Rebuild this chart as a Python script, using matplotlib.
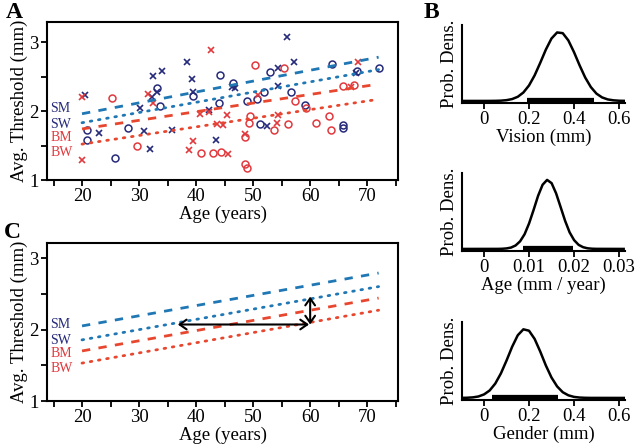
import numpy as np
import matplotlib
matplotlib.use("Agg")
import matplotlib.pyplot as plt
from matplotlib.ticker import MultipleLocator

plt.rcParams['font.family'] = ['Liberation Serif', 'DejaVu Serif']

# ---------------- data ----------------
# Panel A scatter (age, avg threshold)
sm_age = [20.6, 23.0, 30.2, 30.9, 31.9, 32.4, 32.2, 33.1, 34.1, 35.7, 38.4, 39.2, 39.4, 42.2, 43.5,
          46.3, 46.8, 52.5, 54.3, 55.9, 57.1, 54.3, 68.1]
sm_thr = [2.23, 1.68, 2.04, 1.71, 1.45, 2.51, 2.21, 2.28, 2.58, 1.72, 2.71, 2.46, 2.27, 2.01, 1.58,
          2.35, 2.34, 1.78, 2.62, 3.07, 2.71, 2.36, 2.55]
sw_age = [20.8, 20.8, 25.8, 28.0, 33.1, 33.7, 39.4, 44.2, 44.0, 46.5, 48.9, 50.6, 51.9, 51.2, 52.9,
          56.7, 59.1, 63.8, 68.2, 65.7, 65.7, 72.0]
sw_thr = [1.72, 1.58, 1.32, 1.75, 2.34, 2.07, 2.22, 2.52, 2.11, 2.41, 2.15, 2.18, 2.28, 1.81, 2.57,
          2.27, 2.09, 2.68, 2.58, 1.80, 1.76, 2.62]
bm_age = [20.0, 20.0, 31.5, 32.4, 38.8, 39.4, 40.7, 42.2, 42.6, 43.6, 44.8, 45.4, 45.6, 48.6, 50.8,
          54.2, 54.3, 68.3, 67.1]
bm_thr = [1.29, 2.20, 2.24, 2.11, 1.44, 1.57, 1.96, 1.99, 2.88, 1.81, 1.80, 1.94, 1.38, 1.66, 2.23,
          1.82, 1.94, 2.71, 2.35]
bw_age = [25.2, 29.6, 40.9, 42.9, 44.4, 48.5, 48.6, 48.9, 49.2, 49.5, 50.4, 53.6, 55.4, 56.1, 57.4,
          59.2, 61.1, 63.3, 63.6, 65.7, 67.7]
bw_thr = [2.19, 1.50, 1.39, 1.39, 1.41, 1.62, 1.23, 1.18, 1.83, 1.93, 2.67, 1.72, 2.63, 1.81, 2.14,
          2.04, 1.83, 1.93, 1.73, 2.36, 2.38]

# Panel A fit lines (endpoints at age 20 and 72)
fit_age = [20, 72]
fitA_sm = [1.96, 2.78]
fitA_sw = [1.83, 2.60]
fitA_bm = [1.74, 2.39]
fitA_bw = [1.52, 2.17]

# Panel C model lines
fitC_sm = [2.05, 2.79]
fitC_sw = [1.855, 2.60]
fitC_bm = [1.70, 2.44]
fitC_bw = [1.53, 2.27]

# arrows in C
harrow_age = [36.8, 59.8]
harrow_thr = 2.07
varrow_age = 60.0
varrow_thr = [2.07, 2.46]

group_labels = ['SM', 'SW', 'BM', 'BW']
labelA_y = [2.03, 1.81, 1.61, 1.40]
labelC_y = [2.07, 1.85, 1.66, 1.45]

# Panel B posterior densities (relative)
vis_x = [-0.1, 0.0, 0.025, 0.05, 0.075, 0.1, 0.125, 0.15, 0.175, 0.2, 0.225, 0.25, 0.275, 0.3, 0.325,
         0.35, 0.375, 0.4, 0.425, 0.45, 0.475, 0.5, 0.525, 0.55, 0.575, 0.6, 0.625]
vis_d = [0, 0.0001, 0.0004, 0.0013, 0.004, 0.011, 0.027, 0.060, 0.122, 0.224, 0.370, 0.552, 0.744,
         0.904, 0.992, 0.982, 0.877, 0.708, 0.516, 0.339, 0.201, 0.106, 0.051, 0.022, 0.009, 0.003, 0.001]
vis_ci = [0.19, 0.49]
age_x = [-0.005, 0.003, 0.004, 0.005, 0.006, 0.007, 0.008, 0.009, 0.010, 0.011, 0.012, 0.013, 0.014,
         0.015, 0.016, 0.017, 0.018, 0.019, 0.020, 0.021, 0.022, 0.023, 0.024, 0.025, 0.031]
age_d = [0, 0.0007, 0.0023, 0.0073, 0.020, 0.050, 0.110, 0.213, 0.370, 0.565, 0.770, 0.930, 1.0,
         0.953, 0.805, 0.607, 0.407, 0.240, 0.127, 0.059, 0.025, 0.009, 0.003, 0.001, 0]
age_ci = [0.0087, 0.0197]
gen_x = [-0.1, -0.075, -0.05, -0.025, 0.0, 0.025, 0.05, 0.075, 0.1, 0.125, 0.15, 0.175, 0.2, 0.225,
         0.25, 0.275, 0.3, 0.325, 0.35, 0.375, 0.4, 0.425, 0.45, 0.475, 0.625]
gen_d = [0.0008, 0.0027, 0.008, 0.021, 0.051, 0.108, 0.208, 0.355, 0.541, 0.741, 0.908, 0.994, 0.974,
         0.855, 0.672, 0.470, 0.296, 0.167, 0.083, 0.038, 0.015, 0.0055, 0.0018, 0.0005, 0]
gen_ci = [0.037, 0.33]

# ---------------- style ----------------
NAVY = '#262a7a'
RED = '#e0393e'
BLUE_L = '#1f77b4'
RED_L = '#e8472f'
FS = 13.5

fig = plt.figure(figsize=(6.4, 4.48), dpi=100)

def style_main(ax):
    ax.set_xlim(13.86, 75.4)
    ax.xaxis.set_major_locator(MultipleLocator(10))
    ax.xaxis.set_minor_locator(MultipleLocator(5))
    ax.yaxis.set_major_locator(MultipleLocator(1))
    ax.yaxis.set_minor_locator(MultipleLocator(0.5))
    ax.tick_params(which='both', direction='out', length=4, width=1.3, labelsize=FS, pad=2)
    for s in ax.spines.values():
        s.set_linewidth(1.5)
    ax.set_xlabel('Age (years)', fontsize=FS, labelpad=0)
    ax.set_ylabel('Avg. Threshold (mm)', fontsize=FS, labelpad=1)

# Panel A
axA = fig.add_axes([47/640, 1-180/448, (398-47)/640, 158/448])
style_main(axA)
axA.set_ylim(1.0, 3.29)
ms = 5
axA.plot(sm_age, sm_thr, 'x', color=NAVY, ms=ms, mew=1.2, ls='none')
axA.plot(sw_age, sw_thr, 'o', color=NAVY, ms=ms, mfc='none', mew=1.1, ls='none')
axA.plot(bm_age, bm_thr, 'x', color=RED, ms=ms, mew=1.2, ls='none')
axA.plot(bw_age, bw_thr, 'o', color=RED, ms=ms, mfc='none', mew=1.1, ls='none')
axA.plot(fit_age, fitA_sm, color=BLUE_L, lw=2, ls=(0, (3, 3)))
axA.plot(fit_age, fitA_sw, color=BLUE_L, lw=2, ls=(0, (0.6, 2.4)), dash_capstyle='round')
axA.plot(fit_age, fitA_bm, color=RED_L, lw=2, ls=(0, (3, 3)))
axA.plot(fit_age, fitA_bw, color=RED_L, lw=2, ls=(0, (0.6, 2.4)), dash_capstyle='round')
for lab, yv, c in zip(group_labels, labelA_y, [NAVY, NAVY, RED, RED]):
    axA.text(14.4, yv, lab, color=c, fontsize=10, va='center', ha='left')

# Panel C
axC = fig.add_axes([47/640, 1-401/448, (398-47)/640, 158/448])
style_main(axC)
axC.set_ylim(1.0, 3.21)
axC.plot(fit_age, fitC_sm, color=BLUE_L, lw=2, ls=(0, (3, 3)))
axC.plot(fit_age, fitC_sw, color=BLUE_L, lw=2, ls=(0, (0.6, 2.4)), dash_capstyle='round')
axC.plot(fit_age, fitC_bm, color=RED_L, lw=2, ls=(0, (3, 3)))
axC.plot(fit_age, fitC_bw, color=RED_L, lw=2, ls=(0, (0.6, 2.4)), dash_capstyle='round')
for lab, yv, c in zip(group_labels, labelC_y, [NAVY, NAVY, RED, RED]):
    axC.text(14.4, yv, lab, color=c, fontsize=10, va='center', ha='left')
arrowprops = dict(arrowstyle='<->,head_length=0.5,head_width=0.35', color='black', lw=1.5,
                  shrinkA=0, shrinkB=0)
axC.annotate('', xy=(harrow_age[0], harrow_thr), xytext=(harrow_age[1], harrow_thr), arrowprops=arrowprops)
axC.annotate('', xy=(varrow_age, varrow_thr[0]), xytext=(varrow_age, varrow_thr[1]), arrowprops=arrowprops)

# Panel B
def post_ax(rect, x, d, ci, xlim, ticks, ticklabels, xlabel):
    ax = fig.add_axes(rect)
    ax.plot(x, d, color='black', lw=1.8)
    ax.plot(ci, [0, 0], color='black', lw=4.5, solid_capstyle='butt')
    ax.set_xlim(*xlim)
    ax.set_ylim(-0.03, 1.1)
    ax.set_xticks(ticks)
    ax.set_xticklabels(ticklabels)
    ax.set_yticks([])
    ax.spines['top'].set_visible(False)
    ax.spines['right'].set_visible(False)
    ax.spines['left'].set_linewidth(1.5)
    ax.spines['bottom'].set_linewidth(1.5)
    ax.tick_params(axis='x', direction='out', length=4, width=1.3, labelsize=FS, pad=2)
    ax.set_ylabel('Prob. Dens.', fontsize=FS, labelpad=3)
    ax.set_xlabel(xlabel, fontsize=FS, labelpad=0)
    return ax

bx = 462/640
bw = (625-462)/640
post_ax([bx, 1-103/448, bw, 78/448], vis_x, vis_d, vis_ci, (-0.098, 0.627),
        [0, 0.2, 0.4, 0.6], ['0', '0.2', '0.4', '0.6'], 'Vision (mm)')
post_ax([bx, 1-251/448, bw, 78/448], age_x, age_d, age_ci, (-0.0049, 0.0313),
        [0, 0.01, 0.02, 0.03], ['0', '0.01', '0.02', '0.03'], 'Age (mm / year)')
post_ax([bx, 1-400/448, bw, 78/448], gen_x, gen_d, gen_ci, (-0.098, 0.627),
        [0, 0.2, 0.4, 0.6], ['0', '0.2', '0.4', '0.6'], 'Gender (mm)')

# panel letters
fig.text(6/640, 1-12/448, 'A', fontsize=17, fontweight='bold', va='center', ha='left')
fig.text(424/640, 1-12/448, 'B', fontsize=17, fontweight='bold', va='center', ha='left')
fig.text(4/640, 1-232/448, 'C', fontsize=17, fontweight='bold', va='center', ha='left')

fig.savefig('out.png', dpi=100)
